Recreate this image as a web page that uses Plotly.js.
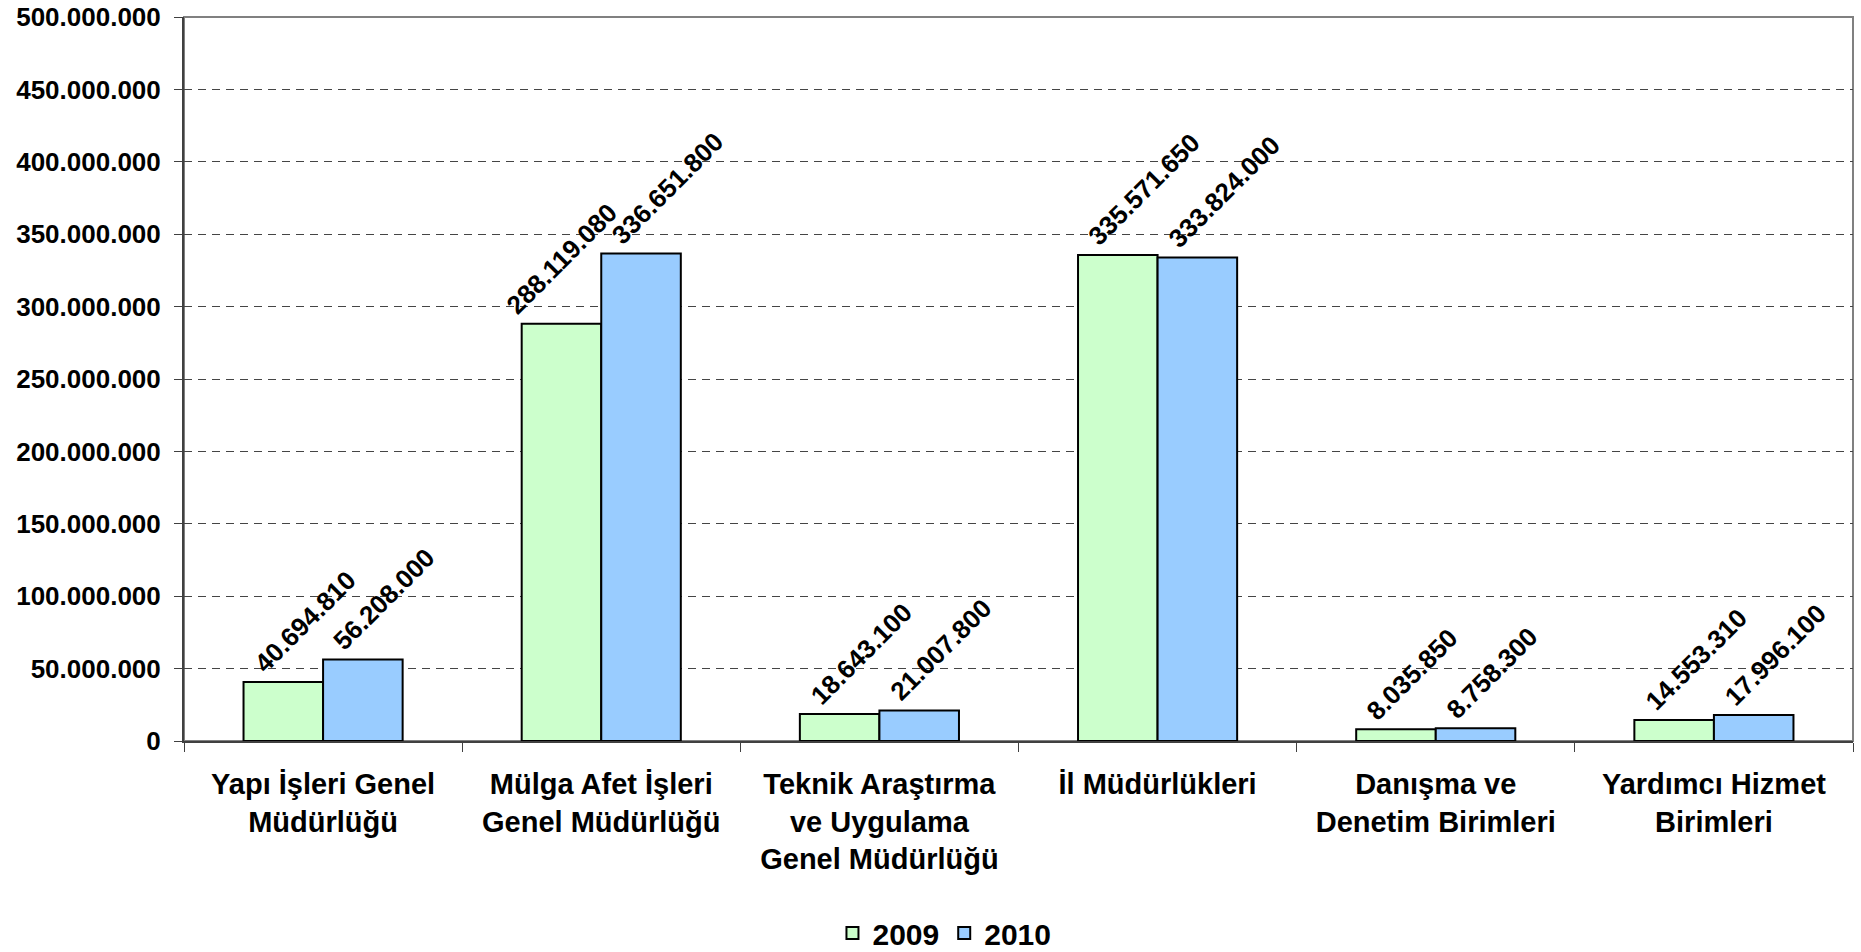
<!DOCTYPE html>
<html>
<head>
<meta charset="utf-8">
<script src="https://cdn.plot.ly/plotly-3.0.1.min.js"></script>
<style>
  html, body { margin: 0; padding: 0; background: #ffffff; }
  #chart { width: 1861px; height: 952px; }
</style>
</head>
<body>
<div id="chart"></div>
<script>
const categories = [
  'Yapı İşleri Genel<br>Müdürlüğü',
  'Mülga Afet İşleri<br>Genel Müdürlüğü',
  'Teknik Araştırma<br>ve Uygulama<br>Genel Müdürlüğü',
  'İl Müdürlükleri',
  'Danışma ve<br>Denetim Birimleri',
  'Yardımcı Hizmet<br>Birimleri'
];
const seriesNames = ['2009', '2010'];
const values2009 = [40694810, 288119080, 18643100, 335571650, 8035850, 14553310];
const values2010 = [56208000, 336651800, 21007800, 333824000, 8758300, 17996100];
const yTickValues = [0, 50000000, 100000000, 150000000, 200000000, 250000000, 300000000, 350000000, 400000000, 450000000, 500000000];

const FONT = 'Liberation Sans, Arial, sans-serif';
const BARGAP = 0.428;

function fmt(v) {
  return Math.round(v).toString().replace(/\B(?=(\d{3})+(?!\d))/g, '.');
}

function barTrace(name, values, color) {
  return {
    type: 'bar',
    name: name,
    x: categories,
    y: values,
    marker: { color: color, line: { color: '#000000', width: 2 } },
    hoverinfo: 'x+y'
  };
}

const data = [
  barTrace(seriesNames[0], values2009, '#CCFFCC'),
  barTrace(seriesNames[1], values2010, '#99CCFF')
];

// rotated value labels anchored at the top of each bar (bar centre = category index -/+ quarter of group width)
const series = [values2009, values2010];
const groupHalf = (1 - BARGAP) / 4;
const annotations = [];
series.forEach(function (vals, s) {
  vals.forEach(function (v, j) {
    let shift = -38;
    // the 2009 label of the second group is pulled left in the original to clear its neighbour
    if (s === 0 && j === 1) shift = -64;
    annotations.push({
      xref: 'x', yref: 'y',
      x: j + (s === 0 ? -groupHalf : groupHalf),
      y: v,
      text: fmt(v),
      textangle: -45,
      showarrow: false,
      xanchor: 'left',
      yanchor: 'bottom',
      xshift: shift,
      yshift: 1,
      font: { family: FONT, size: 26, weight: 'bold', color: '#000000' }
    });
  });
});

const layout = {
  width: 1861,
  height: 952,
  margin: { l: 184, r: 8, t: 17, b: 211 },
  paper_bgcolor: '#ffffff',
  plot_bgcolor: '#ffffff',
  separators: ',.',
  barmode: 'group',
  bargap: BARGAP,
  bargroupgap: 0,
  showlegend: true,
  legend: {
    orientation: 'h',
    xref: 'container', yref: 'container',
    x: 0.5075, xanchor: 'center',
    y: 0.02, yanchor: 'middle',
    font: { family: FONT, size: 30, weight: 'bold', color: '#000000' },
    traceorder: 'normal'
  },
  xaxis: {
    type: 'category',
    automargin: false,
    showgrid: false,
    showline: true,
    linecolor: '#404040',
    linewidth: 2,
    ticks: 'outside',
    tickson: 'boundaries',
    ticklen: 9,
    tickwidth: 1,
    tickcolor: '#404040',
    ticklabelstandoff: 16,
    tickfont: { family: FONT, size: 29, weight: 'bold', color: '#000000' },
    fixedrange: true
  },
  yaxis: {
    automargin: false,
    range: [0, 500000000],
    tickvals: yTickValues,
    tickformat: ',.0f',
    showgrid: true,
    gridcolor: '#454545',
    gridwidth: 1,
    griddash: '8px,6px',
    zeroline: false,
    showline: true,
    linecolor: '#404040',
    linewidth: 2,
    ticks: 'outside',
    ticklen: 8,
    tickwidth: 1,
    tickcolor: '#404040',
    ticklabelstandoff: 8,
    tickfont: { family: FONT, size: 26, weight: 'bold', color: '#000000' },
    fixedrange: true
  },
  annotations: annotations,
  shapes: [{
    type: 'rect', xref: 'paper', yref: 'paper',
    x0: 0, x1: 1, y0: 0, y1: 1,
    line: { color: '#808080', width: 2 },
    layer: 'below'
  }]
};

Plotly.newPlot('chart', data, layout, { displayModeBar: false, staticPlot: true });
</script>
</body>
</html>
